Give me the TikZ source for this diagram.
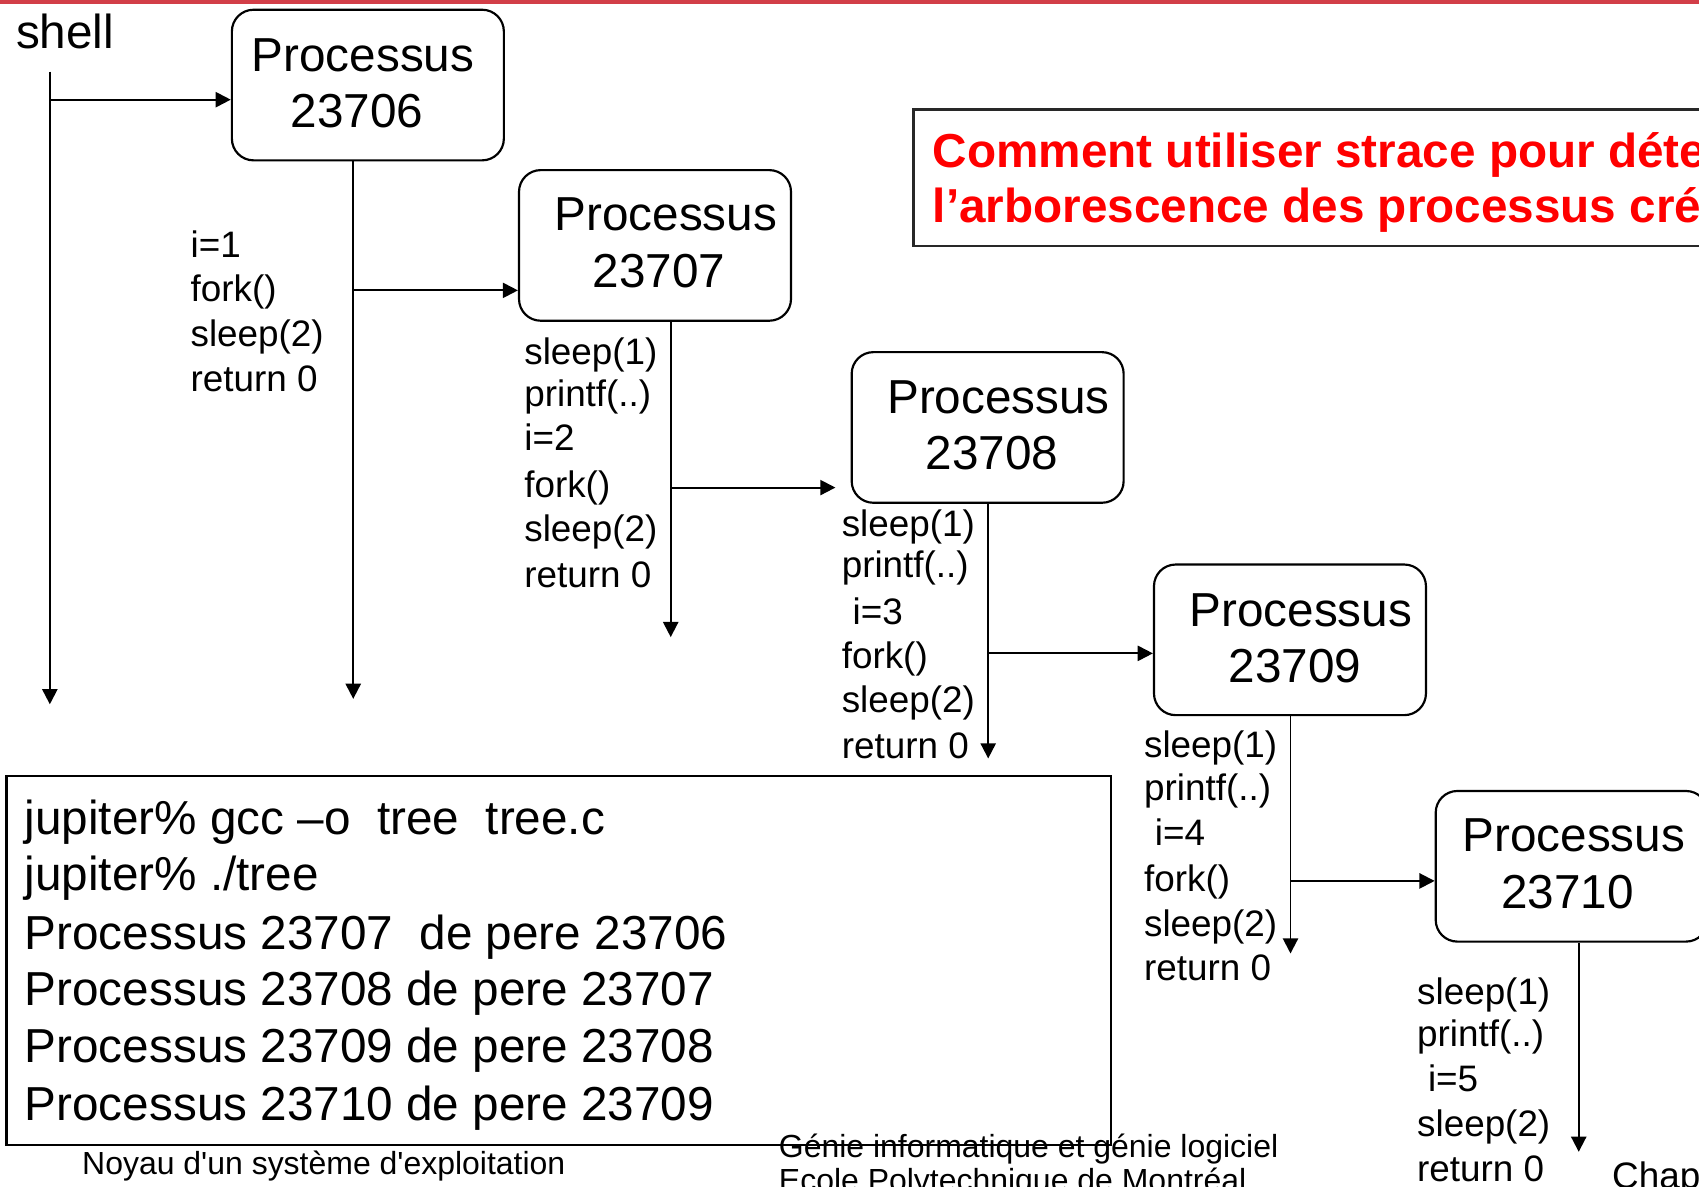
\documentclass[tikz,border=0pt]{standalone}
\usepackage{fontspec}
\setmainfont{Liberation Sans}
\usetikzlibrary{arrows.meta,calc}
\definecolor{barred}{RGB}{210,62,72}
\definecolor{framegray}{RGB}{40,40,40}

\begin{document}
\begin{tikzpicture}[x=0.5pt,y=-0.5pt,
  line width=0.9pt,
  arr/.style={-{Triangle[length=7pt,width=7pt]}},
  pbox/.style={draw, rounded corners=10pt, minimum width=125.5pt,
    minimum height=69.5pt, inner sep=0pt, line width=1pt},
  big/.style={font=\fontsize{22}{26}\selectfont, inner sep=0pt},
  lbl/.style={font=\fontsize{17}{20}\selectfont, inner sep=0pt, anchor=base west},
  foot/.style={font=\fontsize{14.75}{17}\selectfont, inner sep=0pt, anchor=base west},
  ttl/.style={font=\bfseries\fontsize{22}{26}\selectfont, text=red, inner sep=0pt, anchor=base west},
]
% page frame
\useasboundingbox (0,0) rectangle (1568,1095);
\fill[white] (0,0) rectangle (1568,1095);
\fill[barred] (0,0) rectangle (1568,3.5);

% process boxes
\node[pbox] (p1) at (339.5,78.5) {};
\node[pbox] (p2) at (604.5,226.5) {};
\node[pbox] (p3) at (911.5,394.5) {};
\node[pbox] (p4) at (1190.5,590.5) {};
\node[pbox] (p5) at (1450.5,799.5) {};

\node[big, anchor=base] (p1a) at (335,66) {Processus};
\node[big, anchor=base] (p1b) at (329.5,118) {23706};
\node[big, anchor=base] (p2a) at (614.5,213) {Processus};
\node[big, anchor=base] (p2b) at (608,265) {23707};
\node[big, anchor=base] (p3a) at (921.5,382) {Processus};
\node[big, anchor=base] (p3b) at (915.5,433) {23708};
\node[big, anchor=base] (p4a) at (1200.5,578) {Processus};
\node[big, anchor=base] (p4b) at (1195,630) {23709};
\node[big, anchor=base] (p5a) at (1452.5,786) {Processus};
\node[big, anchor=base] (p5b) at (1446.5,838) {23710};

% shell
\node[big, anchor=base west] (shell) at (14,45) {shell};
\coordinate (s0) at (46,66);
\coordinate (e0) at (46,650);
\coordinate (f0) at (46,92);
\draw[arr] (s0) -- (e0);
\draw[arr] (f0) -- (f0 -| p1.west);

% lifelines and forks
\coordinate (e1) at (326,645);
\coordinate (f1) at (326,268);
\draw[arr] (p1.south -| e1) -- (e1);
\draw[arr] (f1) -- (f1 -| p2.west);

\coordinate (e2) at (619,588);
\coordinate (f2) at (619,450);
\draw[arr] (p2.south -| e2) -- (e2);
\draw[arr, shorten >=7pt] (f2) -- (f2 -| p3.west);

\coordinate (e3) at (912,700);
\coordinate (f3) at (912,603);
\draw[arr] (p3.south -| e3) -- (e3);
\draw[arr] (f3) -- (f3 -| p4.west);

\coordinate (e4) at (1191,880);
\coordinate (f4) at (1191,813);
\draw[arr] (p4.south -| e4) -- (e4);
\draw[arr] (f4) -- (f4 -| p5.west);

\coordinate (e5) at (1457,1063);
\draw[arr] (p5.south -| e5) -- (e5);

% code executed by each process
\foreach \x/\y/\t [count=\i] in {175/238/i=1, 175/278/fork(), 175/320/sleep(2), 175/361/return 0}
  \node[lbl] (a\i) at (\x,\y) {\t};
\foreach \x/\y/\t [count=\i] in {483/336/sleep(1), 483/375/printf(..), 483/416/i=2,
    483/459/fork(), 483/500/sleep(2), 483/542/return 0}
  \node[lbl] (b\i) at (\x,\y) {\t};
\foreach \x/\y/\t [count=\i] in {776/495/sleep(1), 776/533/printf(..), 786/576/i=3,
    776/617/fork(), 776/658/sleep(2), 776/700/return 0}
  \node[lbl] (c\i) at (\x,\y) {\t};
\foreach \x/\y/\t [count=\i] in {1055/699/sleep(1), 1055/739/printf(..), 1065/780/i=4,
    1055/823/fork(), 1055/864/sleep(2), 1055/905/return 0}
  \node[lbl] (d\i) at (\x,\y) {\t};
\foreach \x/\y/\t [count=\i] in {1307/927/sleep(1), 1307/966/printf(..), 1317/1007/i=5,
    1307/1049/sleep(2), 1307/1090/return 0}
  \node[lbl] (g\i) at (\x,\y) {\t};

% title
\node[draw=framegray, line width=1.2pt, anchor=north west, minimum width=384pt,
  minimum height=63pt, inner sep=0pt] (title) at (842,100) {};
\node[ttl] (title1) at (860,155) {Comment utiliser strace pour déterminer};
\node[ttl] (title2) at (860,205) {l’arborescence des processus créés};

% terminal session
\node[draw, line width=1pt, anchor=north west, minimum width=509.5pt,
  minimum height=170.5pt, inner sep=0pt] (term) at (5,715) {};
\node[big, anchor=base west] (r1) at (22,770) {jupiter\% gcc –o\ \ tree\ \ tree.c};
\node[big, anchor=base west] (r2) at (22,822) {jupiter\% ./tree};
\node[big, anchor=base west] (r3) at (22,876) {Processus 23707\ \ de pere 23706};
\node[big, anchor=base west] (r4) at (22,928) {Processus 23708 de pere 23707};
\node[big, anchor=base west] (r5) at (22,981) {Processus 23709 de pere 23708};
\node[big, anchor=base west] (r6) at (22,1034) {Processus 23710 de pere 23709};

% footer
\node[foot] (ft1) at (75,1084) {Noyau d\textquotesingle un système d\textquotesingle exploitation};
\node[foot] (ft2) at (718,1068) {Génie informatique et génie logiciel};
\node[foot] (ft3) at (718,1100) {Ecole Polytechnique de Montréal};
\node[lbl] (ft4) at (1487,1097) {Chap};
\end{tikzpicture}
\end{document}
